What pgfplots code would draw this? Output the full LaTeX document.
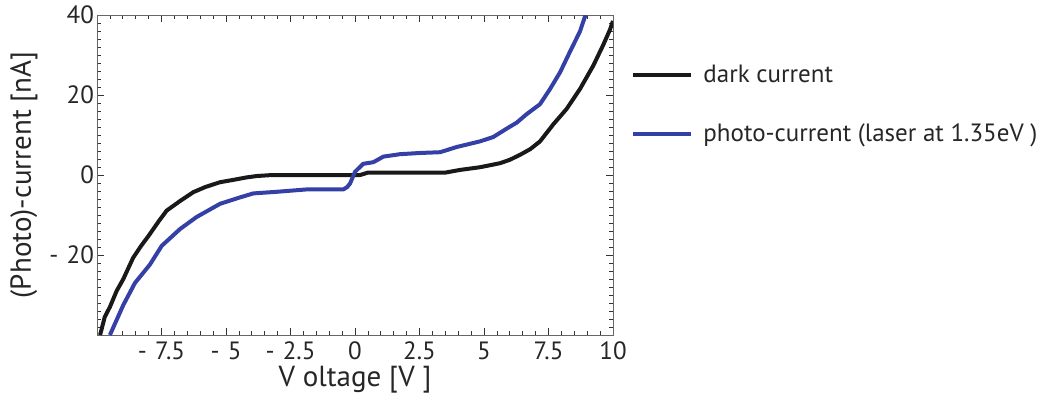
\documentclass[border=0pt]{standalone}
\usepackage{fontspec}
\setmainfont{PT Sans}
\usepackage{pgfplots}
\pgfplotsset{compat=1.18}

\definecolor{photoblue}{RGB}{52,64,165}
\definecolor{darkline}{RGB}{25,25,25}

% dark current (V, nA)
\pgfplotstableread{
V I
-9.88 -40
-9.70 -35.5
-9.50 -33
-9.24 -29
-8.98 -26
-8.60 -20.7
-8.30 -17.8
-8.00 -15.2
-7.60 -11.5
-7.30 -8.9
-6.78 -6.5
-6.27 -4.3
-5.80 -3.0
-5.23 -1.8
-4.70 -1.2
-4.20 -0.6
-3.80 -0.25
-3.20 0
0.20 0
0.50 0.6
3.50 0.6
4.07 1.27
4.84 1.94
5.62 2.95
6.00 3.8
6.40 5.06
6.80 6.5
7.17 8.4
7.69 12.7
8.20 16.5
8.72 21.5
9.24 27.4
9.62 32.5
9.88 36.3
10.00 38.5
}\darkcurrent

% photo-current (V, nA)
\pgfplotstableread{
V I
-9.50 -40
-8.98 -32.5
-8.53 -27
-7.95 -22.4
-7.49 -17.7
-6.78 -13.5
-6.14 -10.5
-5.23 -7.2
-4.46 -5.6
-3.94 -4.6
-3.04 -4.2
-1.87 -3.6
-0.45 -3.6
-0.30 -3.0
-0.19 -2.1
0.00 0.8
0.32 2.8
0.71 3.2
1.10 4.6
1.74 5.2
2.50 5.5
3.30 5.7
3.94 7
4.84 8.4
5.36 9.5
5.88 11.6
6.27 13.1
6.65 15.2
7.17 17.7
7.56 21.5
7.95 25.7
8.33 30.8
8.72 35.9
8.98 40.9
}\photocurrent

\begin{document}
\begin{tikzpicture}
\useasboundingbox (0pt,0pt) rectangle (523.5pt,201.5pt);
\begin{axis}[
    at={(48.5pt,34pt)}, anchor=south west,
    width=258pt, height=160pt,
    scale only axis,
    xmin=-10, xmax=10,
    ymin=-40, ymax=40,
    xtick={-7.5,-5,-2.5,0,2.5,5,7.5,10},
    xticklabels={-\,\,7.5,-\,\,5,-\,\,2.5,0,2.5,5,7.5,10},
    ytick={-20,0,20,40},
    yticklabels={-\,\,20,0,20,40},
    minor xtick={-10,-9.5,...,10},
    minor ytick={-40,-38,...,40},
    major tick length=3.5pt,
    minor tick length=1.8pt,
    tick style={black!80, line width=0.4pt},
    axis line style={black!60, line width=0.5pt},
    tick label style={font=\fontsize{12.5}{14}\selectfont, text=black!85},
    yticklabel style={xshift=2pt},
    label style={font=\fontsize{14.5}{17}\selectfont, text=black!85},
    xlabel={V oltage [V ]},
    ylabel={(Photo)-current [nA]},
    xlabel style={yshift=4pt},
    ylabel style={yshift=-1pt},
    legend style={at={(1.035,0.72)}, anchor=west, draw=none, fill=none,
        font=\fontsize{12.5}{14}\selectfont, text=black!85,
        row sep=15pt, inner sep=0pt,
        nodes={inner xsep=5pt}},
    legend cell align=left,
    legend image code/.code={\draw[#1, line width=2pt] (0pt,0pt) -- (29pt,0pt);},
]
\addplot[darkline, line width=2pt, line join=round] table[x=V,y=I] {\darkcurrent};
\addlegendentry{dark current}
\addplot[photoblue, line width=2pt, line join=round] table[x=V,y=I] {\photocurrent};
\addlegendentry{photo-current (laser at 1.35eV )}
\end{axis}
\end{tikzpicture}
\end{document}
